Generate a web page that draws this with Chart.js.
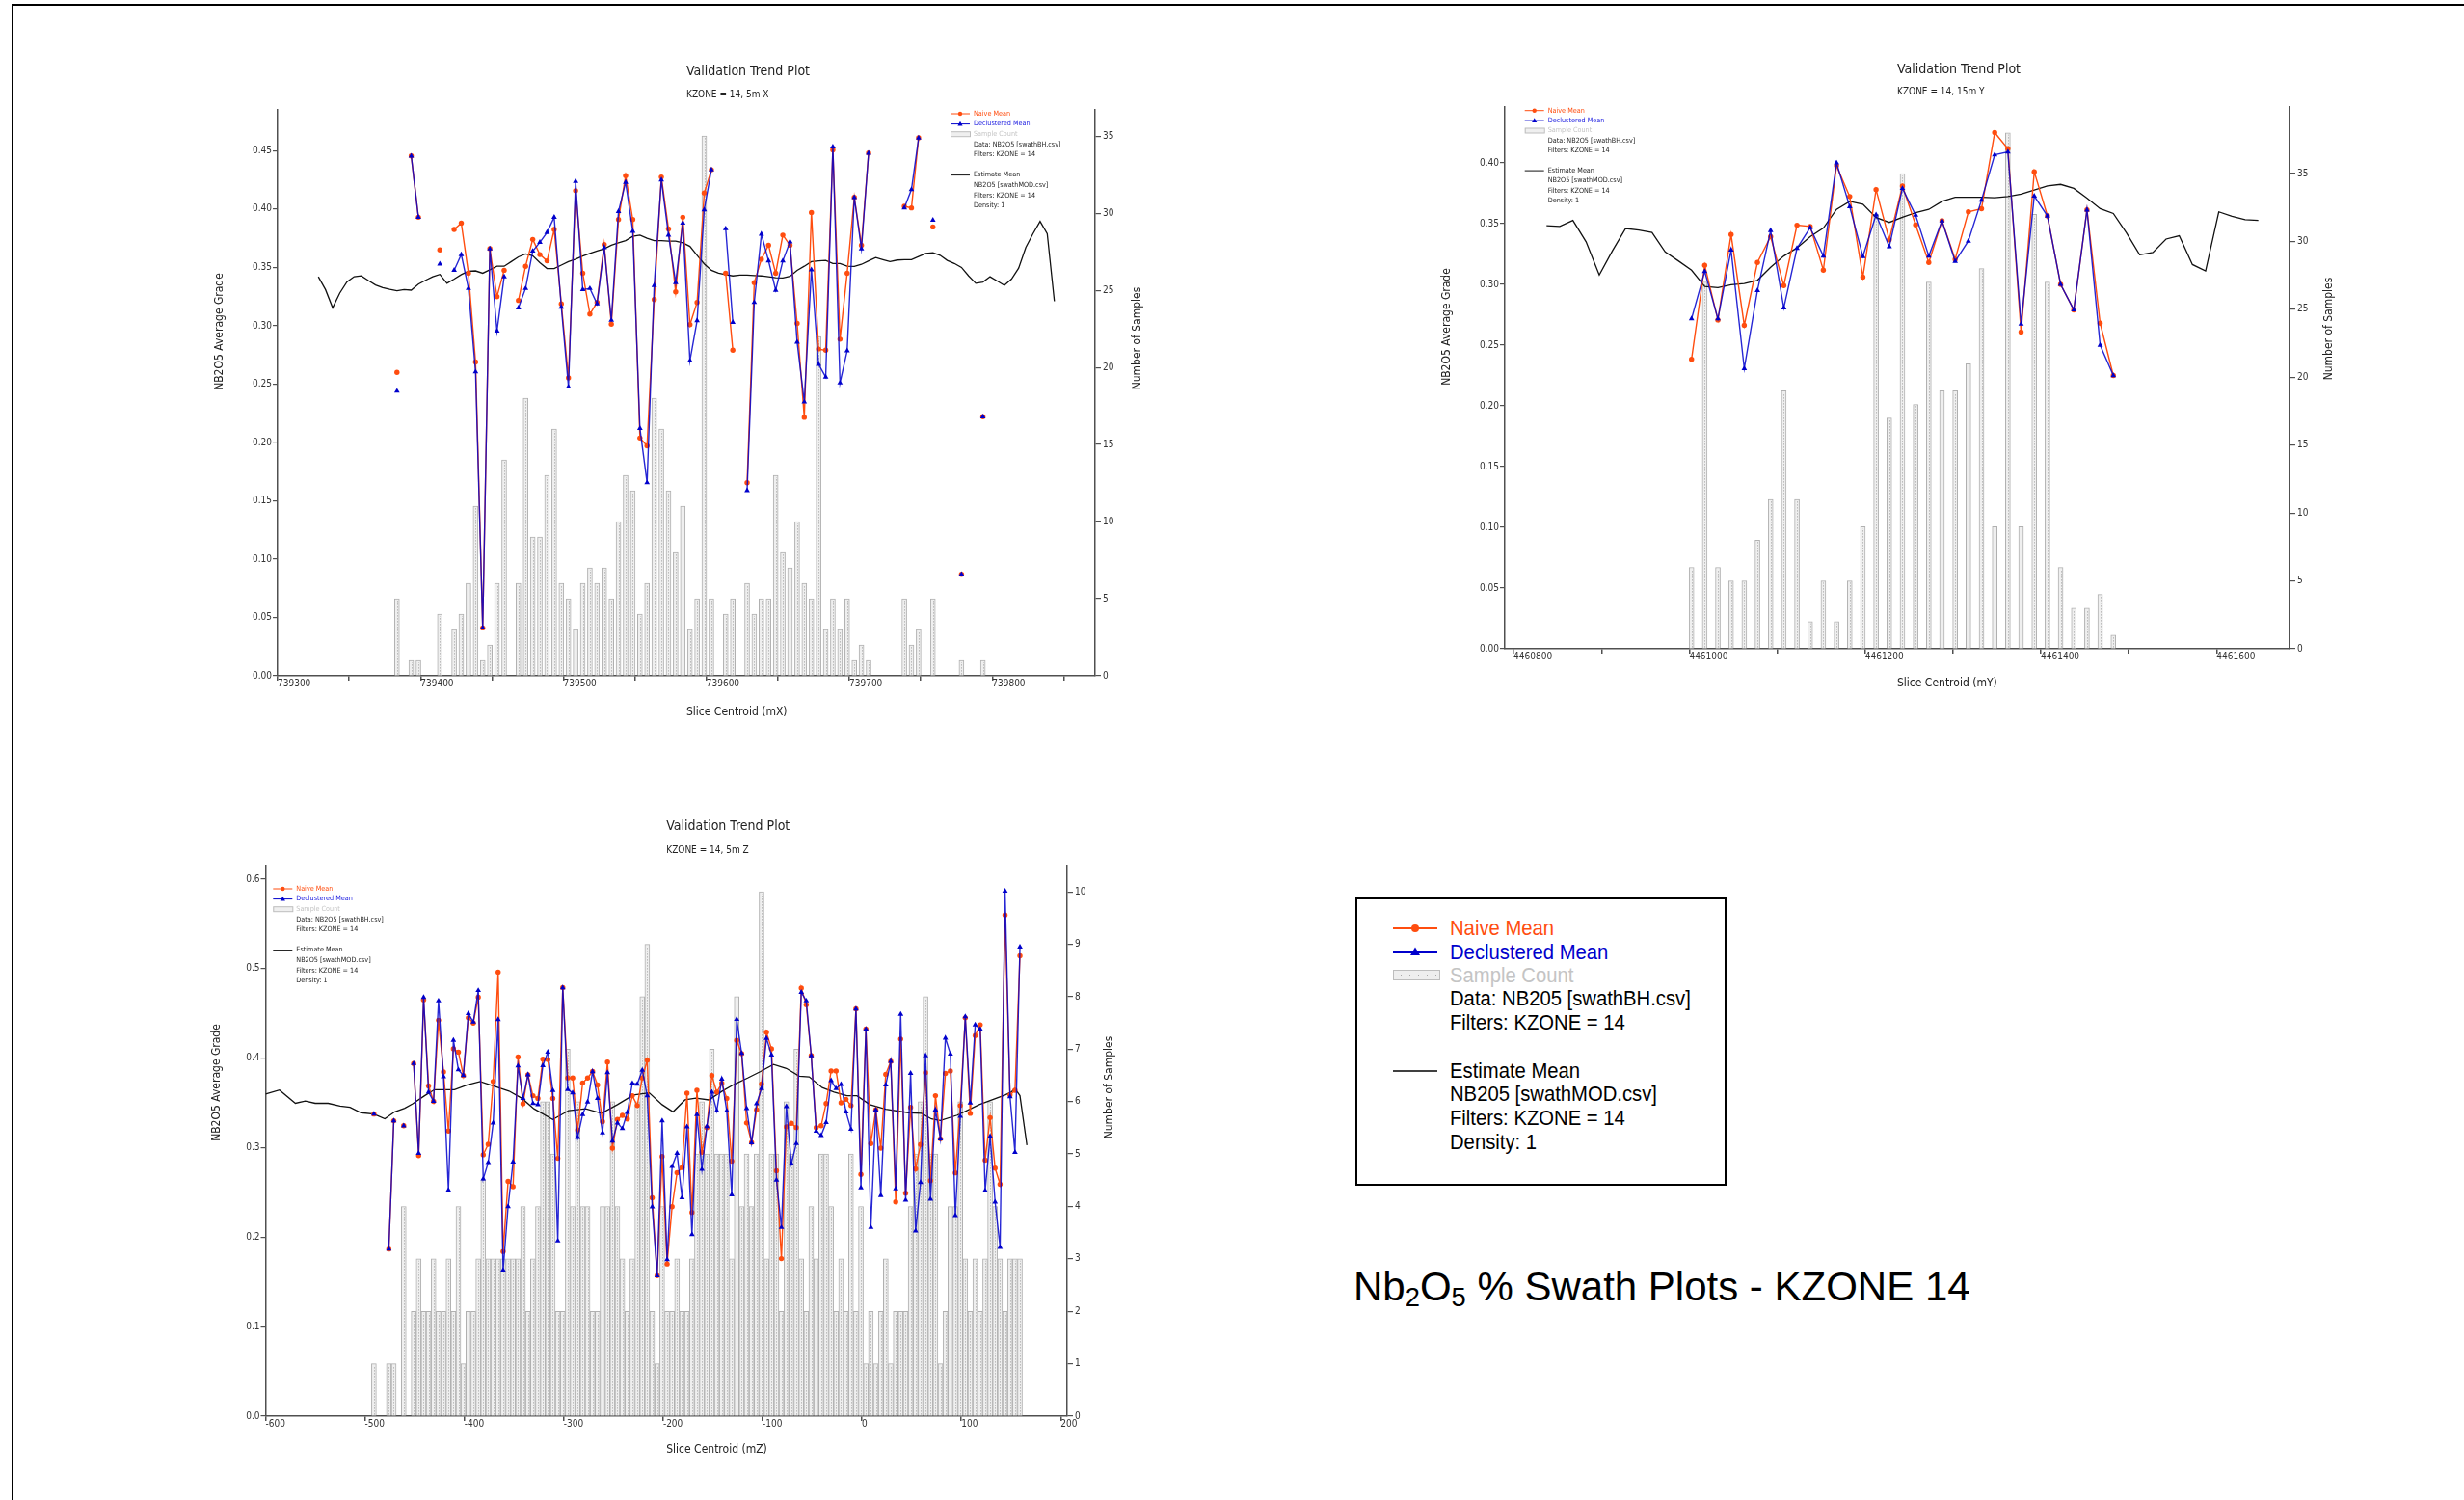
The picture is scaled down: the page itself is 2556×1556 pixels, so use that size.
<!DOCTYPE html>
<html>
<head>
<meta charset="utf-8">
<title>Nb2O5 % Swath Plots - KZONE 14</title>
<script src="https://cdn.jsdelivr.net/npm/chart.js@4.4.1/dist/chart.umd.min.js"></script>
<style>
  html, body { margin: 0; padding: 0; background: #fff; }
  body { width: 2556px; height: 1556px; position: relative; overflow: hidden;
         font-family: "Liberation Sans", Arial, sans-serif; }
  .frame { position: absolute; left: 12px; top: 4px; width: 2600px; height: 1600px;
           border-left: 2px solid #000; border-top: 2px solid #000; }
  canvas { position: absolute; }
  #key { position: absolute; left: 1406px; top: 931px; width: 381px; height: 295px;
         border: 2px solid #000; background: #fff; }
  #key .row { position: absolute; left: 96px; height: 24px; line-height: 24px; font-size: 22.5px;
              white-space: nowrap; transform: scaleX(0.9); transform-origin: 0 50%; color: #000; }
  #key svg { position: absolute; left: 37px; }
  #headline { position: absolute; left: 1404px; top: 1314px; font-size: 42px; line-height: 42px;
              white-space: nowrap; color: #000; }
  #headline .s { font-size: 0.65em; vertical-align: -0.22em; line-height: 0; }
</style>
</head>
<body>
<div class="frame"></div>

<canvas id="swathX" width="1000" height="700" style="left:200px;top:60px"></canvas>
<canvas id="swathY" width="990" height="680" style="left:1470px;top:55px"></canvas>
<canvas id="swathZ" width="1000" height="700" style="left:190px;top:835px"></canvas>

<div id="key">
  <svg width="50" height="16" style="top:22px"><line x1="0" y1="8" x2="46" y2="8" stroke="#ff4d0f" stroke-width="2"/><circle cx="23" cy="8" r="4" fill="#ff4d0f"/></svg>
  <div class="row" style="top:18px;color:#ff4d0f">Naive Mean</div>
  <svg width="50" height="16" style="top:47px"><line x1="0" y1="8" x2="46" y2="8" stroke="#0000cc" stroke-width="2"/><polygon points="23,2.5 28,11 18,11" fill="#0000cc"/></svg>
  <div class="row" style="top:43px;color:#0000cc">Declustered Mean</div>
  <svg width="52" height="16" style="top:71px"><rect x="0.5" y="2.5" width="48" height="10" fill="#eeeeee" stroke="#bdbdbd"/><g fill="#a8a8a8"><rect x="8" y="7" width="1" height="1"/><rect x="17" y="7" width="1" height="1"/><rect x="26" y="7" width="1" height="1"/><rect x="35" y="7" width="1" height="1"/><rect x="44" y="7" width="1" height="1"/></g></svg>
  <div class="row" style="top:67px;color:#c4c4c4">Sample Count</div>
  <div class="row" style="top:91px">Data: NB205 [swathBH.csv]</div>
  <div class="row" style="top:116px">Filters: KZONE = 14</div>
  <svg width="50" height="16" style="top:170px"><line x1="0" y1="8" x2="46" y2="8" stroke="#000" stroke-width="1.6"/></svg>
  <div class="row" style="top:166px">Estimate Mean</div>
  <div class="row" style="top:190px">NB205 [swathMOD.csv]</div>
  <div class="row" style="top:215px">Filters: KZONE = 14</div>
  <div class="row" style="top:240px">Density: 1</div>
</div>

<div id="headline">Nb<span class="s">2</span>O<span class="s">5</span> % Swath Plots - KZONE 14</div>

<script>
// ---------------------------------------------------------------------------
// X swath (5 m slices): slice centroids (mX)
const xCentroid = [
  739328.5, 739333.5, 739338.5, 739343.5, 739348.5, 739353.5, 739358.5, 739363.5, 739368.5, 739373.5,
  739378.5, 739383.5, 739388.5, 739393.5, 739398.5, 739403.5, 739408.5, 739413.5, 739418.5, 739423.5,
  739428.5, 739433.5, 739438.5, 739443.5, 739448.5, 739453.5, 739458.5, 739463.5, 739468.5, 739473.5,
  739478.5, 739483.5, 739488.5, 739493.5, 739498.5, 739503.5, 739508.5, 739513.5, 739518.5, 739523.5,
  739528.5, 739533.5, 739538.5, 739543.5, 739548.5, 739553.5, 739558.5, 739563.5, 739568.5, 739573.5,
  739578.5, 739583.5, 739588.5, 739593.5, 739598.5, 739603.5, 739608.5, 739613.5, 739618.5, 739623.5,
  739628.5, 739633.5, 739638.5, 739643.5, 739648.5, 739653.5, 739658.5, 739663.5, 739668.5, 739673.5,
  739678.5, 739683.5, 739688.5, 739693.5, 739698.5, 739703.5, 739708.5, 739713.5, 739718.5, 739723.5,
  739728.5, 739733.5, 739738.5, 739743.5, 739748.5, 739753.5, 739758.5, 739763.5, 739768.5, 739773.5,
  739778.5, 739783.5, 739788.5, 739793.5, 739798.5, 739803.5, 739808.5, 739813.5, 739818.5, 739823.5,
  739828.5, 739833.5, 739838.5, 739843.5
];
const xCount = [
  null, null, null, null, null, null, null, null, null, null, null,
  5, null, 1, 1, null, null, 4, null, 3, 4,
  6, 11, 1, 2, 6, 14, null, 6, 18, 9,
  9, 13, 16, 6, 5, 3, 6, 7, 6, 7,
  5, 10, 13, 12, 4, 6, 18, 16, 12, 8,
  11, 3, 5, 35, 5, null, 4, 5, null, 6,
  4, 5, 5, 13, 8, 7, 10, 6, 5, 22,
  3, 5, 3, 5, 1, 2, 1, null, null, null,
  null, 5, 2, 3, null, 5, null, null, null, 1,
  null, null, 1,
  null, null, null, null, null, null, null, null, null, null
];
const xNaive = [
  null, null, null, null, null, null, null, null, null, null, null,
  0.260, null, 0.4455, 0.393, null, null, 0.365, null, 0.3825, 0.388,
  0.345, 0.269, 0.041, 0.366, 0.325, 0.3475, null, 0.3217, 0.351, 0.374,
  0.361, 0.3556, 0.3825, 0.3188, 0.2554, 0.4157, 0.345, 0.310, 0.320, 0.3696,
  0.3014, 0.391, 0.4286, 0.391, 0.2038, 0.197, 0.3224, 0.4275, 0.383, 0.329,
  0.393, 0.301, 0.320, 0.4138, 0.4337, null, 0.345, 0.279, null, 0.1655,
  0.337, 0.357, 0.369, 0.345, 0.3777, 0.369, 0.302, 0.2215, 0.397, 0.280,
  0.279, 0.4507, 0.2885, 0.345, 0.410, 0.369, 0.448, null, null, null,
  null, 0.4024, 0.401, 0.461, null, 0.3847, null, null, null, 0.087,
  null, null, 0.222,
  null, null, null, null, null, null, null, null, null, null
];
const xDeclustered = [
  null, null, null, null, null, null, null, null, null, null, null,
  0.244, null, 0.4455, 0.393, null, null, 0.353, null, 0.3475, 0.361,
  0.332, 0.2605, 0.041, 0.366, 0.2955, 0.342, null, 0.3154, 0.332, 0.364,
  0.3715, 0.380, 0.393, 0.316, 0.2476, 0.4238, 0.331, 0.332, 0.3188, 0.367,
  0.3047, 0.398, 0.423, 0.381, 0.212, 0.1655, 0.3346, 0.425, 0.3777, 0.337,
  0.388, 0.270, 0.3044, 0.3995, 0.4337, null, 0.3832, 0.303, null, 0.1588,
  0.320, 0.3785, 0.3556, 0.3305, 0.3556, 0.372, 0.286, 0.2347, 0.348, 0.267,
  0.256, 0.4533, 0.251, 0.2786, 0.410, 0.366, 0.448, null, null, null,
  null, 0.401, 0.4168, 0.461, null, 0.3906, null, null, null, 0.087,
  null, null, 0.222,
  null, null, null, null, null, null, null, null, null, null
];
const xEstimate = [
  0.342, 0.331, 0.3154, 0.328, 0.3375, 0.342, 0.3427, 0.3387, 0.335, 0.3327,
  0.3312, 0.330, 0.331, 0.3305, 0.3357, 0.339, 0.342, 0.344, 0.3364, 0.340,
  0.3438, 0.3467, 0.347, 0.345, 0.348, 0.351, 0.351, 0.355, 0.359, 0.3615,
  0.360, 0.354, 0.349, 0.349, 0.352, 0.355, 0.357, 0.3597, 0.362, 0.364,
  0.366, 0.369, 0.371, 0.373, 0.3766, 0.3777, 0.375, 0.373, 0.373, 0.3725,
  0.3725, 0.371, 0.368, 0.3604, 0.353, 0.3475, 0.345, 0.3438, 0.3427, 0.3434,
  0.3434, 0.343, 0.3427, 0.342, 0.3412, 0.3409, 0.3423, 0.3475, 0.351, 0.355,
  0.3556, 0.356, 0.3534, 0.3534, 0.351, 0.3508, 0.3526, 0.3556, 0.3585, 0.3567,
  0.355, 0.3563, 0.3567, 0.3567, 0.3593, 0.3619, 0.3626, 0.3604, 0.356, 0.3534,
  0.350, 0.3427, 0.3364, 0.3375, 0.342, 0.3383, 0.3346, 0.340, 0.3494, 0.367,
  0.3788, 0.3895, 0.3788, 0.321
];
const xTickValues = [739300, 739350, 739400, 739450, 739500, 739550, 739600, 739650, 739700, 739750, 739800, 739850];
const xTickLabels = [739300, 739400, 739500, 739600, 739700, 739800];

// ---------------------------------------------------------------------------
// Y swath (15 m slices): slice centroids (mY)
const yCentroid = [
  4460837.5, 4460852.5, 4460867.5, 4460882.5, 4460897.5, 4460912.5, 4460927.5, 4460942.5, 4460957.5, 4460972.5,
  4460987.5, 4461002.5, 4461017.5, 4461032.5, 4461047.5, 4461062.5, 4461077.5, 4461092.5, 4461107.5, 4461122.5,
  4461137.5, 4461152.5, 4461167.5, 4461182.5, 4461197.5, 4461212.5, 4461227.5, 4461242.5, 4461257.5, 4461272.5,
  4461287.5, 4461302.5, 4461317.5, 4461332.5, 4461347.5, 4461362.5, 4461377.5, 4461392.5, 4461407.5, 4461422.5,
  4461437.5, 4461452.5, 4461467.5, 4461482.5, 4461497.5, 4461512.5, 4461527.5, 4461542.5, 4461557.5, 4461572.5,
  4461587.5, 4461602.5, 4461617.5, 4461632.5, 4461647.5
];
const yCount = [
  null, null, null, null, null, null, null, null, null, null, null,
  6, 27, 6, 5, 5, 8, 11, 19, 11, 2, 5, 2, 5, 9, 32, 17, 35, 18, 27, 19, 19, 21, 28, 9, 38, 9, 32, 27, 6, 3, 3, 4, 1,
  null, null, null, null, null, null, null, null, null, null, null
];
const yNaive = [
  null, null, null, null, null, null, null, null, null, null, null,
  0.2383, 0.3157, 0.2707, 0.341, 0.2663, 0.318, 0.3393, 0.299, 0.3487, 0.3477, 0.3117,
  0.3977, 0.3723, 0.306, 0.378, 0.3367, 0.381, 0.349, 0.318, 0.3523, 0.3207, 0.3597,
  0.3623, 0.425, 0.4117, 0.2607, 0.3927, 0.3563, 0.300, 0.279, 0.3613, 0.268, 0.225,
  null, null, null, null, null, null, null, null, null, null, null
];
const yDeclustered = [
  null, null, null, null, null, null, null, null, null, null, null,
  0.2717, 0.3107, 0.2717, 0.3283, 0.2307, 0.295, 0.3443, 0.2807, 0.3297, 0.3467, 0.3233,
  0.400, 0.364, 0.323, 0.3573, 0.331, 0.379, 0.357, 0.3233, 0.3523, 0.319, 0.3357,
  0.3693, 0.4067, 0.409, 0.2673, 0.3727, 0.3563, 0.300, 0.279, 0.3613, 0.250, 0.225,
  null, null, null, null, null, null, null, null, null, null, null
];
const yEstimate = [
  0.3483, 0.3477, 0.3527, 0.335, 0.3077, 0.3277, 0.346, 0.3447, 0.3427, 0.3267,
  0.3193, 0.3117, 0.2983, 0.2973, 0.2997, 0.3007, 0.3033, 0.314, 0.3233, 0.330,
  0.3393, 0.3463, 0.3617, 0.3683, 0.366, 0.355, 0.351, 0.3553, 0.359, 0.3617,
  0.3683, 0.3717, 0.3717, 0.3717, 0.3713, 0.3723, 0.3743, 0.3777, 0.381, 0.3823,
  0.379, 0.371, 0.3623, 0.3583, 0.3423, 0.3243, 0.3263, 0.3373, 0.340, 0.3163,
  0.311, 0.3597, 0.356, 0.3533, 0.3527
];
const yTickValues = [4460800, 4460900, 4461000, 4461100, 4461200, 4461300, 4461400, 4461500, 4461600];
const yTickLabels = [4460800, 4461000, 4461200, 4461400, 4461600];

// ---------------------------------------------------------------------------
// Z swath (5 m slices): slice centroids (mZ)
const zCentroid = [
  -491, -486, -481, -476, -471, -466, -461, -456, -451, -446,
  -441, -436, -431, -426, -421, -416, -411, -406, -401, -396,
  -391, -386, -381, -376, -371, -366, -361, -356, -351, -346,
  -341, -336, -331, -326, -321, -316, -311, -306, -301, -296,
  -291, -286, -281, -276, -271, -266, -261, -256, -251, -246,
  -241, -236, -231, -226, -221, -216, -211, -206, -201, -196,
  -191, -186, -181, -176, -171, -166, -161, -156, -151, -146,
  -141, -136, -131, -126, -121, -116, -111, -106, -101, -96,
  -91, -86, -81, -76, -71, -66, -61, -56, -51, -46,
  -41, -36, -31, -26, -21, -16, -11, -6, -1, 4,
  9, 14, 19, 24, 29, 34, 39, 44, 49, 54,
  59, 64, 69, 74, 79, 84, 89, 94, 99, 104,
  109, 114, 119, 124, 129, 134, 139, 144, 149, 154,
  159
];
const zCount = [
  1, null, null, 1, 1, null, 4, null, 2, 3,
  2, 2, 3, 2, 2, 3, 2, 4, 1, 2,
  2, 3, 4.5, 3, 3, 3, 3, 3, 3, 3,
  4, 2, 3, 4, 6, 6, 5, 2, 2, 7,
  4, 6, 4, 4, 2, 2, 4, 4, 6, 4,
  3, 2, 3, 6, 8, 9, 2, 1, 4, 2,
  2, 3, 2, 2, 3, 5, 6, 5, 7, 5,
  5, 5, 3, 8, 4, 5, 4, 5, 10, 3,
  5, 5, 2, 6, 5, 7, 3, 2, 4, 3,
  5, 5, 4, 2, 3, 2, 5, 2, 4, 1,
  2, 1, 2, 3, 1, 2, 2, 2, 4, 5,
  6, 8, 5, 5, 1, 2, 4, 4, 6, 3,
  2, 3, 2, 3, 6, 4, 3, 2, 3, 3,
  3
];
const zNaive = [
  0.3375, null, null, 0.1867, 0.330, null, 0.3244, null, 0.394, 0.291,
  0.4649, 0.369, 0.3517, 0.4423, 0.3846, 0.3185, 0.4103, 0.4067, 0.3806, 0.445,
  0.4392, 0.468, 0.292, 0.3038, 0.3739, 0.4961, 0.184, 0.2623, 0.2564, 0.4012,
  0.349, 0.3814, 0.358, 0.355, 0.3988, 0.3984, 0.355, 0.288, 0.4787, 0.3778,
  0.3778, 0.3197, 0.3723, 0.3778, 0.385, 0.370, 0.329, 0.3956, 0.2995, 0.3315,
  0.336, 0.332, 0.358, 0.347, 0.3778, 0.3976, 0.244, 0.157, 0.290, 0.170,
  0.234, 0.272, 0.2777, 0.3608, 0.2275, 0.364, 0.2948, 0.3224, 0.3806, 0.362,
  0.3719, 0.355, 0.2849, 0.4198, 0.4051, 0.3276, 0.3058, 0.3422, 0.371, 0.4289,
  0.4103, 0.2742, 0.176, 0.3232, 0.3272, 0.3224, 0.4783, 0.4597, 0.4028, 0.3224,
  0.3244, 0.3493, 0.3857, 0.3857, 0.350, 0.354, 0.347, 0.455, 0.270, 0.4324,
  0.3046, 0.3422, 0.2995, 0.3818, 0.3964, 0.2394, 0.4213, 0.2492, 0.345, 0.2762,
  0.3034, 0.3838, 0.2631, 0.358, 0.3098, 0.383, 0.3857, 0.2718, 0.347, 0.445,
  0.3383, 0.4253, 0.4372, 0.286, 0.3335, 0.277, 0.2591, 0.5598, 0.3588, 0.364,
  0.5143
];
const zDeclustered = [
  0.3375, null, null, 0.1867, 0.330, null, 0.3244, null, 0.394, 0.2936,
  0.468, 0.362, 0.3517, 0.464, 0.3794, 0.2524, 0.420, 0.387, 0.3806, 0.4498,
  0.4403, 0.4756, 0.265, 0.2833, 0.3276, 0.4431, 0.163, 0.2342, 0.284, 0.3913,
  0.355, 0.3814, 0.3493, 0.348, 0.3917, 0.4067, 0.364, 0.1958, 0.4787, 0.365,
  0.3612, 0.3114, 0.337, 0.351, 0.385, 0.355, 0.3165, 0.3838, 0.3074, 0.3276,
  0.3213, 0.3395, 0.3719, 0.371, 0.3865, 0.358, 0.234, 0.157, 0.330, 0.175,
  0.279, 0.2936, 0.244, 0.3232, 0.203, 0.337, 0.2758, 0.3236, 0.362, 0.341,
  0.3766, 0.341, 0.2473, 0.4435, 0.4055, 0.3438, 0.3054, 0.349, 0.366, 0.4221,
  0.4035, 0.2639, 0.2109, 0.346, 0.282, 0.3046, 0.4736, 0.464, 0.4028, 0.3185,
  0.3137, 0.328, 0.375, 0.366, 0.3707, 0.340, 0.3205, 0.455, 0.2552, 0.4324,
  0.2109, 0.3422, 0.2465, 0.370, 0.3964, 0.254, 0.449, 0.2413, 0.383, 0.2069,
  0.2611, 0.4028, 0.2425, 0.3422, 0.3098, 0.4225, 0.4047, 0.2243, 0.335, 0.4463,
  0.350, 0.4372, 0.4324, 0.252, 0.3125, 0.2394, 0.1887, 0.5867, 0.3569, 0.2947,
  0.5242
];
// block-model estimate along Z
const zEstCentroid = [
  -600, -586, -570, -560, -550, -537, -525, -515, -504, -491,
  -480, -470, -460, -452, -440, -430, -420, -410, -397, -384,
  -371, -355, -342, -330, -311, -295, -278, -262, -246, -230,
  -214, -201, -190, -178, -167, -154, -141, -128, -115, -102,
  -89, -76, -63, -53, -40, -28, -15, -5, 8, 24,
  47, 60, 70, 79, 96, 105, 118, 131, 144, 150,
  154, 159, 166
];
const zEstimate = [
  0.360, 0.3644, 0.3495, 0.352, 0.3495, 0.3495, 0.3465, 0.345, 0.339, 0.3375,
  0.3323, 0.340, 0.344, 0.349, 0.358, 0.3648, 0.3648, 0.3648, 0.370, 0.3739,
  0.369, 0.3632, 0.355, 0.3434, 0.3315, 0.3414, 0.3434, 0.3383, 0.348, 0.3588,
  0.3612, 0.348, 0.340, 0.3533, 0.3553, 0.3533, 0.3628, 0.371, 0.3778, 0.385,
  0.3929, 0.3885, 0.3798, 0.379, 0.3671, 0.362, 0.358, 0.358, 0.348, 0.343,
  0.339, 0.3383, 0.332, 0.3303, 0.3363, 0.341, 0.348, 0.3533, 0.3588, 0.362,
  0.366, 0.358, 0.3027
];
const zTickValues = [-600, -500, -400, -300, -200, -100, 0, 100, 200];
const zTickLabels = [-600, -500, -400, -300, -200, -100, 0, 100, 200];

// ---------------------------------------------------------------------------
const FONT = '"DejaVu Sans Condensed", "DejaVu Sans", sans-serif';
const ORANGE = '#ff4d0f';
const BLUE = '#0000cc';
const AXIS = '#505050';

Chart.defaults.font.family = FONT;
Chart.defaults.color = '#222';

const xy = (xs, ys) => xs.map((x, i) => ({ x: x, y: ys[i] }));

// dotted centre line inside each count bar
const barDots = {
  id: 'barDots',
  afterDatasetDraw(chart, args) {
    if (chart.data.datasets[args.index].type !== 'bar') return;
    const ctx = chart.ctx;
    ctx.save();
    ctx.strokeStyle = '#9c9c9c';
    ctx.lineWidth = 1;
    ctx.setLineDash([1, 2]);
    args.meta.data.forEach(el => {
      const p = el.getProps(['x', 'y', 'base'], true);
      if (!Number.isFinite(p.y) || !Number.isFinite(p.base) || p.base - p.y < 3) return;
      const x = Math.round(p.x) + 0.5;
      ctx.beginPath();
      ctx.moveTo(x, p.base - 1);
      ctx.lineTo(x, p.y + 2);
      ctx.stroke();
    });
    ctx.restore();
  }
};

// titles, axis titles and the in-plot key
const deco = {
  id: 'deco',
  afterDraw(chart, _args, o) {
    const ctx = chart.ctx;
    const a = chart.chartArea;
    const cx = (a.left + a.right) / 2;
    ctx.save();
    ctx.fillStyle = '#222';
    ctx.textAlign = 'left';
    ctx.textBaseline = 'middle';
    ctx.font = '14px ' + FONT;
    ctx.fillText('Validation Trend Plot', cx, a.top + o.titleDy);
    ctx.font = '10px ' + FONT;
    ctx.fillText(o.subtitle, cx, a.top + o.subDy);
    ctx.font = '12px ' + FONT;
    ctx.fillText(o.xTitle, cx, a.bottom + o.xTitleDy);

    const vertical = (text, x, y) => {
      ctx.save();
      ctx.translate(x, y);
      ctx.rotate(-Math.PI / 2);
      ctx.textAlign = 'center';
      ctx.fillText(text, 0, 0);
      ctx.restore();
    };
    vertical('NB2O5 Average Grade', a.left + o.yLx, a.top + o.yLy);
    vertical('Number of Samples', a.right + o.yRx, a.top + o.yRy);

    // key
    const kx = (o.keyRight ? a.right : a.left) + o.keyX;
    const k0 = a.top + o.keyY;
    const dy = o.keyDy;
    const tx = kx + 24;
    ctx.font = '7.2px ' + FONT;
    const row = (i, text, color) => { ctx.fillStyle = color; ctx.fillText(text, tx, k0 + i * dy); };
    const hline = (y, color, w) => {
      ctx.strokeStyle = color; ctx.lineWidth = w;
      ctx.beginPath(); ctx.moveTo(kx, y); ctx.lineTo(kx + 20, y); ctx.stroke();
    };
    let y = k0;
    hline(y, ORANGE, 1);
    ctx.fillStyle = ORANGE; ctx.beginPath(); ctx.arc(kx + 10, y, 2.2, 0, Math.PI * 2); ctx.fill();
    row(0, 'Naive Mean', ORANGE);
    y = k0 + dy;
    hline(y, BLUE, 1);
    ctx.fillStyle = BLUE; ctx.beginPath();
    ctx.moveTo(kx + 10, y - 2.8); ctx.lineTo(kx + 12.6, y + 1.8); ctx.lineTo(kx + 7.4, y + 1.8); ctx.closePath(); ctx.fill();
    row(1, 'Declustered Mean', '#1a1ae0');
    y = k0 + 2 * dy;
    ctx.fillStyle = '#efefef'; ctx.fillRect(kx, y - 2.5, 20, 5);
    ctx.strokeStyle = '#bdbdbd'; ctx.lineWidth = 1; ctx.strokeRect(kx + 0.5, y - 2.5, 20, 5);
    row(2, 'Sample Count', '#c4c4c4');
    row(3, 'Data: NB2O5 [swathBH.csv]', '#222');
    row(4, 'Filters: KZONE = 14', '#222');
    hline(k0 + 6 * dy, '#111', 1);
    row(6, 'Estimate Mean', '#222');
    row(7, 'NB2O5 [swathMOD.csv]', '#222');
    row(8, 'Filters: KZONE = 14', '#222');
    row(9, 'Density: 1', '#222');
    ctx.restore();
  }
};

function swathChart(id, s) {
  const tickFont = { size: 10 };
  return new Chart(document.getElementById(id), {
    type: 'bar',
    data: {
      datasets: [
        { type: 'bar', label: 'Sample Count', data: xy(s.centroid, s.count), yAxisID: 'yR', order: 4,
          backgroundColor: '#efefef', borderColor: '#b0b0b0', borderWidth: 1, barThickness: 5 },
        { type: 'line', label: 'Estimate Mean', data: xy(s.estCentroid, s.estimate), yAxisID: 'yL', order: 3,
          borderColor: '#111', borderWidth: 1.3, pointRadius: 0, tension: 0, fill: false },
        { type: 'line', label: 'Naive Mean', data: xy(s.centroid, s.naive), yAxisID: 'yL', order: 2,
          borderColor: ORANGE, borderWidth: 1.4, pointRadius: 2.7, pointStyle: 'circle',
          pointBorderWidth: 0, pointBackgroundColor: ORANGE, tension: 0, fill: false },
        { type: 'line', label: 'Declustered Mean', data: xy(s.centroid, s.declustered), yAxisID: 'yL', order: 1,
          borderColor: 'rgba(0,0,204,0.85)', borderWidth: 1.4, pointRadius: 3.3, pointStyle: 'triangle',
          pointBorderWidth: 0, pointBackgroundColor: BLUE, tension: 0, fill: false }
      ]
    },
    options: {
      responsive: false,
      animation: false,
      devicePixelRatio: 1,
      events: [],
      layout: { padding: { top: s.padTop, left: 0, right: 0, bottom: 0 } },
      plugins: {
        legend: { display: false },
        tooltip: { enabled: false },
        title: { display: false },
        deco: s.deco
      },
      scales: {
        x: {
          type: 'linear', min: s.xMin, max: s.xMax, offset: false,
          grid: { display: true, drawOnChartArea: false, drawTicks: true, tickLength: 5, color: AXIS, lineWidth: 1.5, offset: false },
          border: { display: true, color: AXIS, width: 1.5 },
          afterBuildTicks: sc => { sc.ticks = s.xTicks.map(v => ({ value: v })); },
          ticks: {
            autoSkip: false, maxRotation: 0, minRotation: 0,
            align: 'start', padding: -3, font: tickFont, color: '#333',
            callback: v => (s.xLabels.includes(v) ? String(v) : '')
          },
          afterFit: sc => { sc.height = s.xH; }
        },
        yL: {
          type: 'linear', position: 'left', min: 0, max: s.gMax,
          grid: { display: true, drawOnChartArea: false, drawTicks: true, tickLength: 5, color: AXIS, lineWidth: 1.2 },
          border: { display: true, color: AXIS, width: 1.5 },
          ticks: { stepSize: s.gStep, includeBounds: false, padding: 1, font: tickFont, color: '#333',
                   callback: v => v.toFixed(s.gDec) },
          afterFit: sc => { sc.width = s.yLW; }
        },
        yR: {
          type: 'linear', position: 'right', min: 0, max: s.cMax,
          grid: { display: true, drawOnChartArea: false, drawTicks: true, tickLength: 6, color: AXIS, lineWidth: 1.2 },
          border: { display: true, color: AXIS, width: 1.5 },
          ticks: { stepSize: s.cStep, includeBounds: false, padding: 2, font: tickFont, color: '#333',
                   callback: v => String(Math.round(v)) },
          afterFit: sc => { sc.width = s.yRW; }
        }
      }
    },
    plugins: [barDots, deco]
  });
}

swathChart('swathX', {
  centroid: xCentroid, count: xCount, naive: xNaive, declustered: xDeclustered,
  estCentroid: xCentroid, estimate: xEstimate,
  xMin: 739300, xMax: 739872, xTicks: xTickValues, xLabels: xTickLabels,
  gMax: 0.485, gStep: 0.05, gDec: 2, cMax: 36.7, cStep: 5,
  padTop: 54, xH: 59, yLW: 88, yRW: 64,
  deco: { subtitle: 'KZONE = 14, 5m X', xTitle: 'Slice Centroid (mX)',
          titleDy: -40, subDy: -16, xTitleDy: 38, yLx: -60, yLy: 230, yRx: 44, yRy: 237,
          keyRight: true, keyX: -150, keyY: 4, keyDy: 10.6 }
});

swathChart('swathY', {
  centroid: yCentroid, count: yCount, naive: yNaive, declustered: yDeclustered,
  estCentroid: yCentroid, estimate: yEstimate,
  xMin: 4460790, xMax: 4461683, xTicks: yTickValues, xLabels: yTickLabels,
  gMax: 0.446, gStep: 0.05, gDec: 2, cMax: 39.9, cStep: 5,
  padTop: 56, xH: 62, yLW: 91, yRW: 85,
  deco: { subtitle: 'KZONE = 14, 15m Y', xTitle: 'Slice Centroid (mY)',
          titleDy: -39, subDy: -16, xTitleDy: 36, yLx: -60, yLy: 228, yRx: 41, yRy: 230,
          keyRight: false, keyX: 20.7, keyY: 3.7, keyDy: 10.4 }
});

swathChart('swathZ', {
  centroid: zCentroid, count: zCount, naive: zNaive, declustered: zDeclustered,
  estCentroid: zEstCentroid, estimate: zEstimate,
  xMin: -600, xMax: 206.5, xTicks: zTickValues, xLabels: zTickLabels,
  gMax: 0.615, gStep: 0.1, gDec: 1, cMax: 10.5, cStep: 1,
  padTop: 63, xH: 66, yLW: 85.5, yRW: 83,
  deco: { subtitle: 'KZONE = 14, 5m Z', xTitle: 'Slice Centroid (mZ)',
          titleDy: -41, subDy: -16, xTitleDy: 35, yLx: -50.5, yLy: 225, yRx: 44, yRy: 230,
          keyRight: false, keyX: 7.8, keyY: 24, keyDy: 10.6 }
});
</script>
</body>
</html>
